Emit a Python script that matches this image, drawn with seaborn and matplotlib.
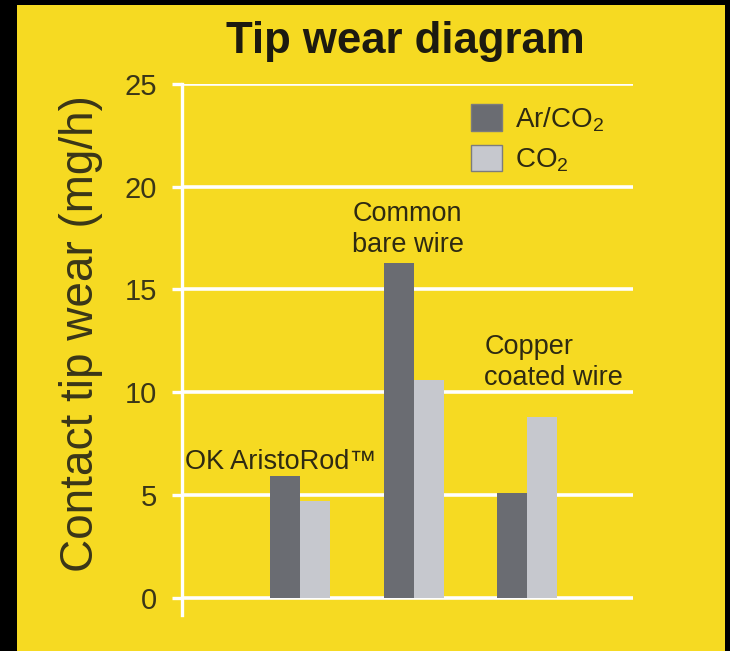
import pandas as pd
import seaborn as sns
import matplotlib.pyplot as plt
from matplotlib.patches import Rectangle

# Data
wires = ['OK AristoRod™', 'Common\nbare wire', 'Copper\ncoated wire']
gases = ['Ar/CO$_2$', 'CO$_2$']
ar_co2 = [5.9, 16.3, 5.1]
co2 = [4.7, 10.6, 8.8]
y_ticks = [0, 5, 10, 15, 20, 25]

# Long-form table for seaborn
data = pd.DataFrame({
    'wire': wires * 2,
    'gas': [gases[0]] * 3 + [gases[1]] * 3,
    'wear': ar_co2 + co2,
})

yellow = '#f6da22'
dark = '#6a6c72'
light = '#c6c8ce'
ink = '#2e2a12'

sns.set_theme(style='white')
plt.rcParams['font.family'] = ['Liberation Sans', 'DejaVu Sans']
plt.rcParams['mathtext.default'] = 'regular'

fig = plt.figure(figsize=(7.3, 6.51), dpi=100, facecolor='black')
# yellow panel inside the black frame
fig.patches.append(Rectangle((17 / 730, 0), 708 / 730, 646 / 651,
                             transform=fig.transFigure, facecolor=yellow,
                             edgecolor='none', zorder=-10))

ax = fig.add_axes([182 / 730, 36 / 651, 451 / 730, 531 / 651])
ax.set_facecolor('none')

sns.barplot(data=data, x='wire', y='wear', hue='gas', palette=[dark, light],
            width=0.53, saturation=1, linewidth=0, ax=ax, zorder=3)

# Axes styling: white left spine and white grid lines
ax.set_ylim(-0.85, 25)
ax.set_xlim(-1.04, 2.93)
ax.set_yticks(y_ticks)
ax.set_yticklabels([str(t) for t in y_ticks], fontsize=21, color='#3a3618')
ax.tick_params(axis='y', length=7.2, width=2.4, color='white', pad=11, left=True)
ax.tick_params(axis='x', bottom=False, labelbottom=False)
ax.yaxis.grid(True, color='white', linewidth=2.6, zorder=1)
ax.set_axisbelow(True)
for side in ['top', 'right', 'bottom']:
    ax.spines[side].set_visible(False)
ax.spines['left'].set_color('white')
ax.spines['left'].set_linewidth(2.4)
ax.set_xlabel('')
ax.set_ylabel('Contact tip wear (mg/h)', fontsize=33, color='#3a3618')
ax.yaxis.set_label_coords(-0.175, 0.53)

# Category labels written next to the bars
ax.text(-1.01, 6.25, wires[0], fontsize=19.5, color=ink, ha='left', va='baseline')
ax.text(0.46, 16.55, wires[1], fontsize=19.5, color=ink, ha='left', va='bottom',
        linespacing=1.25)
ax.text(1.62, 10.05, wires[2], fontsize=19.5, color=ink, ha='left', va='bottom',
        linespacing=1.25)

# Legend
leg = ax.legend(loc='upper left', bbox_to_anchor=(0.611, 0.988), frameon=False,
                fontsize=20, handlelength=1.1, handleheight=1.1,
                handletextpad=0.45, labelspacing=0.4, borderpad=0)
for text in leg.get_texts():
    text.set_color(ink)
for handle in leg.legend_handles:
    handle.set_edgecolor('#7c7c7c')
    handle.set_linewidth(1)

fig.text(405 / 730, 1 - 42 / 651, 'Tip wear diagram', fontsize=31.5,
         fontweight='bold', color='#1c1a10', ha='center', va='center')

fig.savefig('out.png', dpi=100, facecolor=fig.get_facecolor())
